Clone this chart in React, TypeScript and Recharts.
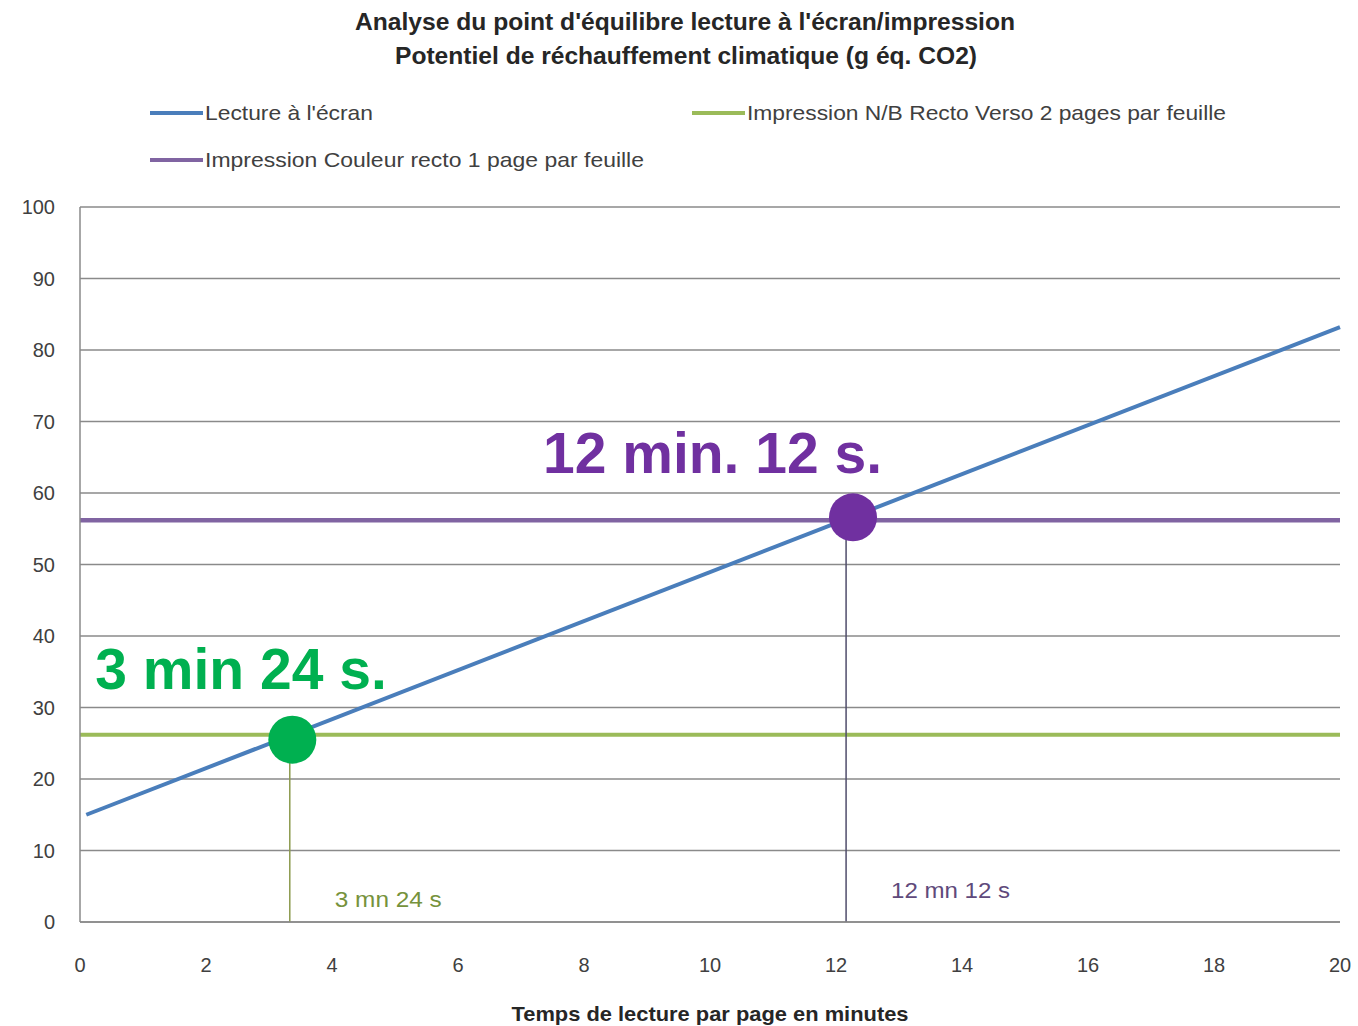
import React from 'react';
import { ComposedChart, Line, Scatter, XAxis, YAxis, CartesianGrid, ReferenceLine, Legend } from 'recharts';

const FONT = "'Liberation Sans Narrow', 'Liberation Sans', Arial, sans-serif";
const BIG_FONT = "'Liberation Sans', Arial, sans-serif";

const xTicks = [0, 2, 4, 6, 8, 10, 12, 14, 16, 18, 20];
const yTicks = [0, 10, 20, 30, 40, 50, 60, 70, 80, 90, 100];

const titleLines = [
  "Analyse du point d'équilibre lecture à l'écran/impression",
  'Potentiel de réchauffement climatique (g éq. CO2)',
];
const xAxisTitle = 'Temps de lecture par page en minutes';

const seriesNames = [
  "Lecture à l'écran",
  'Impression N/B Recto Verso 2 pages par feuille',
  'Impression Couleur recto 1 page par feuille',
];

// minutes -> g éq. CO2
const screenReading = [
  { x: 0.1, y: 15 },
  { x: 20, y: 83.2 },
];
const bwPrint = [
  { x: 0, y: 26.2 },
  { x: 20, y: 26.2 },
];
const colorPrint = [
  { x: 0, y: 56.2 },
  { x: 20, y: 56.2 },
];

const bwBreakEven = [{ x: 3.37, y: 25.5 }];
const colorBreakEven = [{ x: 12.27, y: 56.6 }];

const bwDrop = [
  { x: 3.33, y: 0 },
  { x: 3.33, y: 25.5 },
];
const colorDrop = [
  { x: 12.16, y: 0 },
  { x: 12.16, y: 56.6 },
];

// legend layout (pixel slots in the header), same order as seriesNames
const legendSlots = [
  { x: 150, y: 113, w: 168 },
  { x: 692, y: 113, w: 479 },
  { x: 150, y: 160, w: 439 },
];

const renderLegend = (props: any) => {
  const payload = (props.payload || []).filter((p: any) => p.type !== 'none');
  return (
    <svg width={1358} height={200} style={{ display: 'block' }}>
      {payload.map((entry: any) => {
        const s = legendSlots[seriesNames.indexOf(entry.value)];
        if (!s) return null;
        return (
          <g key={entry.value}>
            <line x1={s.x} x2={s.x + 53} y1={s.y} y2={s.y} stroke={entry.color} strokeWidth={4} />
            <text
              x={s.x + 55}
              y={s.y + 7}
              fontFamily={FONT}
              fontSize={21}
              fill="#404040"
              textLength={s.w}
              lengthAdjust="spacingAndGlyphs"
            >
              {entry.value}
            </text>
          </g>
        );
      })}
    </svg>
  );
};

const BreakEvenDot = (props: any) => {
  const { cx, cy, fill, text, dx, dy } = props;
  if (cx == null || cy == null) return null;
  return (
    <g>
      <circle cx={cx} cy={cy} r={24} fill={fill} />
      <text x={cx + dx} y={cy + dy} fontFamily={BIG_FONT} fontWeight="bold" fontSize={57} fill={fill}>
        {text}
      </text>
    </g>
  );
};

const dropLabel = (text: string, color: string, dy: number, width: number) => (props: any) => {
  const vb = props.viewBox || {};
  const x = (vb.x || 0) + 45;
  const y = (vb.y || 0) + (vb.height || 0) - dy;
  return (
    <text x={x} y={y} fontFamily={FONT} fontSize={22} fill={color} textLength={width} lengthAdjust="spacingAndGlyphs">
      {text}
    </text>
  );
};

const xLabel = (props: any) => {
  const vb = props.viewBox || {};
  return (
    <text
      x={vb.x + vb.width / 2}
      y={vb.y + 99}
      textAnchor="middle"
      fontFamily={FONT}
      fontWeight="bold"
      fontSize={21}
      fill="#262626"
      textLength={397}
      lengthAdjust="spacingAndGlyphs"
    >
      {xAxisTitle}
    </text>
  );
};

export default function App() {
  return (
    <div style={{ position: 'absolute', left: 0, top: 0, width: 1358, height: 1026, background: '#fff' }}>
      <svg width={1358} height={80} style={{ position: 'absolute', left: 0, top: 0 }}>
        <text x={685} y={30} textAnchor="middle" fontFamily={FONT} fontWeight="bold" fontSize={23} fill="#262626" textLength={660} lengthAdjust="spacingAndGlyphs">
          {titleLines[0]}
        </text>
        <text x={686} y={64} textAnchor="middle" fontFamily={FONT} fontWeight="bold" fontSize={23} fill="#262626" textLength={582} lengthAdjust="spacingAndGlyphs">
          {titleLines[1]}
        </text>
      </svg>
      <ComposedChart width={1358} height={1026} margin={{ top: 207, right: 18, bottom: 0, left: 0 }}>
        <CartesianGrid vertical={false} stroke="#8a8a8a" strokeWidth={1.5} />
        <XAxis
          dataKey="x"
          type="number"
          domain={[0, 20]}
          ticks={xTicks}
          height={104}
          tickLine={false}
          tickSize={0}
          tickMargin={36}
          axisLine={{ stroke: '#8a8a8a', strokeWidth: 1.5 }}
          tick={{ fill: '#404040', fontSize: 20, fontFamily: BIG_FONT }}
          label={{ content: xLabel }}
          allowDuplicatedCategory={false}
        />
        <YAxis
          type="number"
          domain={[0, 100]}
          ticks={yTicks}
          width={80}
          tickLine={false}
          tickSize={0}
          tickMargin={25}
          axisLine={{ stroke: '#8a8a8a', strokeWidth: 1.5 }}
          tick={{ fill: '#404040', fontSize: 20, fontFamily: BIG_FONT }}
        />
        <Legend
          layout="horizontal"
          verticalAlign="middle"
          align="center"
          content={renderLegend}
          wrapperStyle={{ position: 'absolute', top: 0, left: 0, width: 1358, height: 200 }}
        />
        <Line data={screenReading} dataKey="y" name={seriesNames[0]} stroke="#4A7EBB" strokeWidth={4} dot={false} isAnimationActive={false} />
        <Line data={bwPrint} dataKey="y" name={seriesNames[1]} stroke="#9BBB59" strokeWidth={4} dot={false} isAnimationActive={false} />
        <Line data={colorPrint} dataKey="y" name={seriesNames[2]} stroke="#8064A2" strokeWidth={4.5} dot={false} isAnimationActive={false} />
        <ReferenceLine
          segment={bwDrop}
          stroke="#8C9A4E"
          strokeWidth={1.5}
          label={{ content: dropLabel('3 mn 24 s', '#76923C', 15, 107) }}
        />
        <ReferenceLine
          segment={colorDrop}
          stroke="#4F4D6B"
          strokeWidth={1.5}
          label={{ content: dropLabel('12 mn 12 s', '#604A7B', 24, 119) }}
        />
        <Scatter
          data={bwBreakEven}
          dataKey="y"
          fill="#00B050"
          legendType="none"
          isAnimationActive={false}
          shape={(p: any) => <BreakEvenDot {...p} fill="#00B050" text="3 min 24 s." dx={-197} dy={-51} />}
        />
        <Scatter
          data={colorBreakEven}
          dataKey="y"
          fill="#7030A0"
          legendType="none"
          isAnimationActive={false}
          shape={(p: any) => <BreakEvenDot {...p} fill="#7030A0" text="12 min. 12 s." dx={-310} dy={-44} />}
        />
      </ComposedChart>
    </div>
  );
}
